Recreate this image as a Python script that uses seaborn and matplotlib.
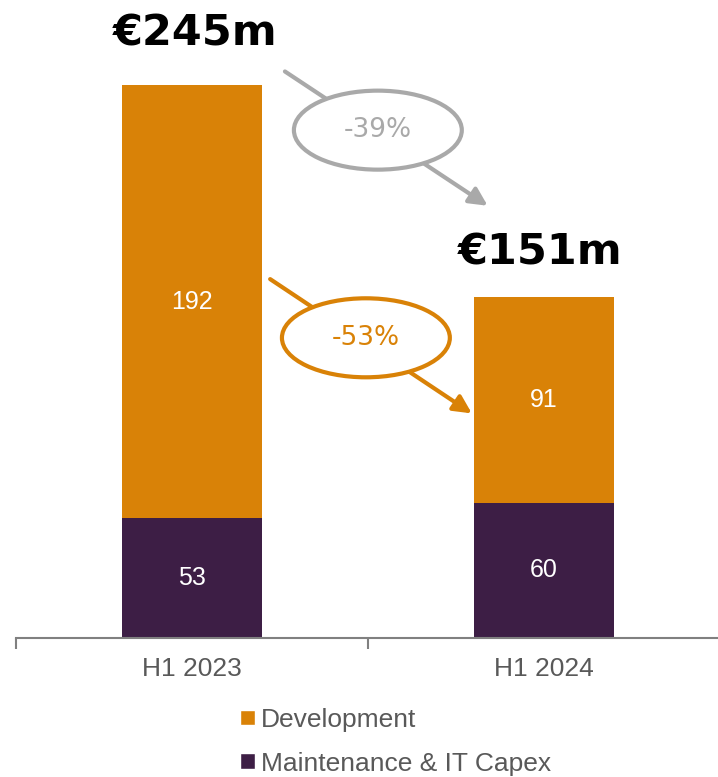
import numpy as np
import pandas as pd
import matplotlib
matplotlib.use("Agg")
import matplotlib.pyplot as plt
from matplotlib.patches import Ellipse, Patch
import seaborn as sns

# Data
periods = ["H1 2023", "H1 2024"]
development = [192, 91]
maintenance = [53, 60]
total_labels = ["€245m", "€151m"]
change_total = "-39%"
change_dev = "-53%"
series_names = ["Development", "Maintenance & IT Capex"]

ORANGE = "#D98207"
PURPLE = "#3D1E45"
GREY = "#A9A9A9"
TEXT_GREY = "#595959"

sns.set_theme(style="white")
plt.rcParams["font.family"] = ["Liberation Sans Narrow", "Liberation Sans", "DejaVu Sans"]

df = pd.DataFrame({"period": periods, "dev": development, "maint": maintenance})
df["total"] = df["dev"] + df["maint"]

fig = plt.figure(figsize=(7.18, 7.77), dpi=100)
ax = fig.add_axes([16 / 718, 139 / 777, 704 / 718, 632 / 777])

sns.barplot(data=df, x="period", y="total", color=ORANGE, width=0.4,
            saturation=1, linewidth=0, ax=ax)
sns.barplot(data=df, x="period", y="maint", color=PURPLE, width=0.4,
            saturation=1, linewidth=0, ax=ax)

ax.set_xlim(-0.5, 1.5)
ax.set_ylim(0, 280)
ax.set_xlabel("")
ax.set_ylabel("")
ax.set_yticks([])
for s in ["top", "right", "left"]:
    ax.spines[s].set_visible(False)
ax.spines["bottom"].set_color("#808080")
ax.spines["bottom"].set_linewidth(1.5)
ax.tick_params(axis="x", which="major", length=0, labelsize=19,
               labelcolor=TEXT_GREY, pad=14)
ax.set_xticks([-0.5, 0.5, 1.5], minor=True)
ax.tick_params(axis="x", which="minor", bottom=True, length=8, width=1.5,
               color="#808080", direction="out")

# segment labels
for i, row in df.iterrows():
    ax.text(i, row["maint"] / 2, str(row["maint"]), ha="center", va="center",
            color="white", fontsize=18, family="Liberation Sans")
    ax.text(i, row["maint"] + row["dev"] / 2, str(row["dev"]), ha="center",
            va="center", color="white", fontsize=18, family="Liberation Sans")

# totals
ax.text(0.01, df["total"][0] + 23, total_labels[0], ha="center", va="center",
        fontsize=31, fontweight="bold", color="black", family="DejaVu Sans")
ax.text(0.99, df["total"][1] + 20, total_labels[1], ha="center", va="center",
        fontsize=31, fontweight="bold", color="black", family="DejaVu Sans")


def change_arrow(start, end, center, label, color):
    ax.annotate("", xy=end, xytext=start,
                arrowprops=dict(arrowstyle="-|>,head_length=0.9,head_width=0.45",
                                color=color, lw=3, shrinkA=0, shrinkB=0),
                zorder=5)
    ax.add_patch(Ellipse(center, 0.477, 35, facecolor="white", edgecolor=color,
                         lw=3, zorder=6))
    ax.text(center[0], center[1], label, ha="center", va="center",
            color=color, fontsize=19, family="DejaVu Sans", zorder=7)


change_arrow((0.264, 251), (0.84, 191.5), (0.528, 225), change_total, GREY)
change_arrow((0.222, 159), (0.795, 99.5), (0.494, 133), change_dev, ORANGE)

handles = [Patch(facecolor=ORANGE, label=series_names[0]),
           Patch(facecolor=PURPLE, label=series_names[1])]
leg = fig.legend(handles=handles, loc="upper left", bbox_to_anchor=(0.316, 0.106),
                 frameon=False, fontsize=19, handlelength=0.55, handleheight=0.55,
                 handletextpad=0.25, labelspacing=0.75, borderpad=0)
for t in leg.get_texts():
    t.set_color(TEXT_GREY)

fig.savefig("out.png", dpi=100)
